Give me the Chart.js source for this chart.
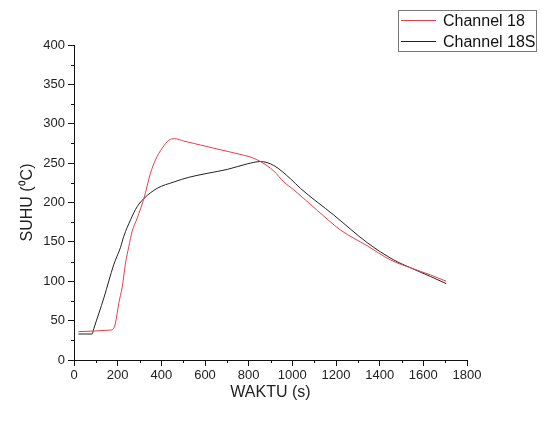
<!DOCTYPE html>
<html>
<head>
<meta charset="utf-8">
<script src="https://cdn.jsdelivr.net/npm/chart.js@4/dist/chart.umd.min.js"></script>
<style>
  html, body { margin: 0; padding: 0; background: #fff; }
  #wrap { width: 545px; height: 428px; }
</style>
</head>
<body>
<div id="wrap"><canvas id="chart"></canvas></div>
<script>
// Channel 18 (red)
const ch18Time = [20, 165, 178, 190, 205, 221, 236, 251, 266, 289, 320, 350, 373, 404, 434, 460, 503, 549, 579, 640, 717, 778, 816, 854, 915, 961, 1007, 1114, 1221, 1343, 1450, 1542, 1633, 1705];
const ch18Temp = [36, 38, 39, 47, 72, 93, 123, 144, 163, 180, 205, 237, 254, 269, 279, 281, 278, 275, 273, 269, 264, 260, 257, 252, 240, 226, 216, 190, 165, 145, 127, 117, 108, 100];

// Channel 18S (black)
const ch18sTime = [20, 83, 91, 137, 182, 213, 228, 259, 290, 320, 381, 457, 526, 610, 702, 793, 854, 915, 992, 1037, 1190, 1343, 1465, 1542, 1633, 1705];
const ch18sTemp = [33, 33, 40, 79, 121, 143, 157, 178, 195, 205, 218, 226, 232, 237, 242, 249, 252, 247, 230, 218, 184, 149, 127, 117, 106, 97];

const xTicks = [0, 1800, 200, 100];   // min, max, major step, minor step
const yTicks = [0, 400, 50, 25];

const FONT = "'Liberation Sans', Arial, sans-serif";

function toPoints(xs, ys) {
    return xs.map((x, i) => ({ x: x, y: ys[i] }));
}

// minor ticks and framed legend
const extras = {
    id: 'extras',
    afterDraw(chart) {
        const c = chart.ctx;
        const xs = chart.scales.x, ys = chart.scales.y;
        const area = chart.chartArea;
        c.save();
        c.strokeStyle = '#111';
        c.lineWidth = 1;
        c.beginPath();
        for (let v = xTicks[0]; v <= xTicks[1]; v += xTicks[3]) {
            if (v % xTicks[2] === 0) continue;
            const px = Math.round(xs.getPixelForValue(v)) + 0.5;
            c.moveTo(px, area.bottom);
            c.lineTo(px, area.bottom + 3);
        }
        for (let v = yTicks[0]; v <= yTicks[1]; v += yTicks[3]) {
            if (v % yTicks[2] === 0) continue;
            const py = Math.round(ys.getPixelForValue(v)) + 0.5;
            c.moveTo(area.left, py);
            c.lineTo(area.left - 3, py);
        }
        c.stroke();

        // legend box
        c.strokeStyle = '#777';
        c.strokeRect(398.5, 10.5, 138, 41);
        c.font = '16px ' + FONT;
        c.textBaseline = 'middle';
        c.fillStyle = '#111';
        chart.data.datasets.forEach((ds, i) => {
            const yy = 20.5 + i * 21;
            c.strokeStyle = ds.borderColor;
            c.beginPath();
            c.moveTo(401, yy);
            c.lineTo(436, yy);
            c.stroke();
            c.fillText(ds.label, 443, yy + 1);
        });
        c.restore();
    }
};

new Chart(document.getElementById('chart'), {
    type: 'line',
    data: {
        datasets: [
            {
                label: 'Channel 18',
                data: toPoints(ch18Time, ch18Temp),
                borderColor: '#e2414b',
                borderWidth: 1,
                pointRadius: 0,
                cubicInterpolationMode: 'monotone',
                fill: false
            },
            {
                label: 'Channel 18S',
                data: toPoints(ch18sTime, ch18sTemp),
                borderColor: '#222222',
                borderWidth: 1,
                pointRadius: 0,
                cubicInterpolationMode: 'monotone',
                fill: false
            }
        ]
    },
    options: {
        responsive: true,
        maintainAspectRatio: false,
        animation: false,
        layout: { padding: { left: 18, right: 78, top: 45, bottom: 26 } },
        plugins: {
            legend: { display: false },
            tooltip: { enabled: false }
        },
        scales: {
            x: {
                type: 'linear',
                min: xTicks[0],
                max: xTicks[1],
                grid: { display: true, drawOnChartArea: false, tickLength: 6, color: '#111' },
                border: { display: true, color: '#111', width: 1 },
                ticks: { stepSize: xTicks[2], padding: 2, color: '#222', font: { family: FONT, size: 13 }, maxRotation: 0, callback: v => String(v) },
                title: { display: true, text: 'WAKTU (s)', color: '#222', font: { family: FONT, size: 16 }, padding: { top: -3, bottom: 0 } },
                afterFit(scale) { scale.height = 42; }
            },
            y: {
                min: yTicks[0],
                max: yTicks[1],
                grid: { display: true, drawOnChartArea: false, tickLength: 6, color: '#111' },
                border: { display: true, color: '#111', width: 1 },
                ticks: { stepSize: yTicks[2], padding: 3, color: '#222', font: { family: FONT, size: 13 }, callback: v => String(v) },
                title: { display: true, text: 'SUHU (\u2070C)', color: '#222', font: { family: FONT, size: 16 }, padding: 0 },
                afterFit(scale) { scale.width = 56; }
            }
        }
    },
    plugins: [extras]
});
</script>
</body>
</html>
